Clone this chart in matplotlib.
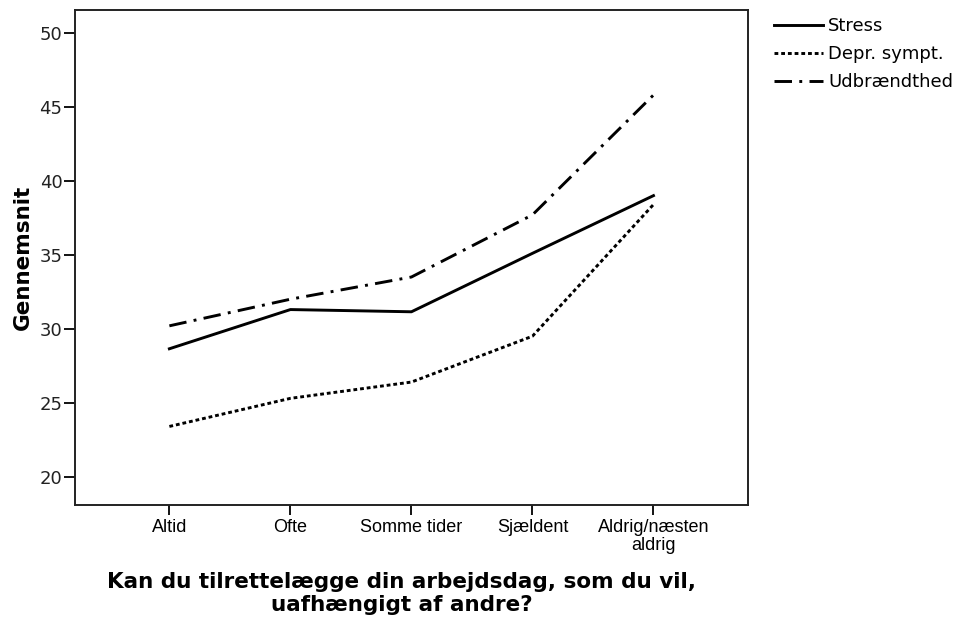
import matplotlib
matplotlib.use("Agg")
import matplotlib.pyplot as plt

# categories on the x axis
categories = ["Altid", "Ofte", "Somme tider", "Sjældent", "Aldrig/næsten\naldrig"]

# mean scores per series
stress = [28.65, 31.3, 31.15, 35.1, 39.0]
depr = [23.4, 25.3, 26.4, 29.5, 38.4]
udbraendt = [30.2, 32.0, 33.5, 37.7, 45.8]

y_ticks = [20, 25, 30, 35, 40, 45, 50]

plt.rcParams['font.family'] = ['DejaVu Sans']

fig = plt.figure(figsize=(9.65, 6.21), dpi=100)
ax = fig.add_axes([0.0777, 0.187, 0.775 - 0.0777, 0.797])

x = list(range(len(categories)))
ax.plot(x, stress, '-', color="black", lw=2.1, label="Stress")
ax.plot(x, depr, color="black", lw=2.1, dashes=(1.3, 1.0), label="Depr. sympt.")
ax.plot(x, udbraendt, color="black", lw=2.1, dashes=(6, 2.5, 1, 2.5), label="Udbrændthed")

ax.set_xlim(-0.78, 4.78)
ax.set_ylim(18.1, 51.55)
ax.set_yticks(y_ticks)
ax.set_xticks(x)
ax.set_xticklabels(categories, family=['Liberation Sans', 'DejaVu Sans'],
                   fontsize=13, linespacing=1.1)
ax.tick_params(axis='y', labelsize=13, length=8, width=1.3, direction='out', pad=1,
               labelcolor='#222222')
ax.tick_params(axis='x', length=7, width=1.3, direction='out', pad=3)
for s in ax.spines.values():
    s.set_linewidth(1.4)
    s.set_color('#222222')

ax.set_ylabel("Gennemsnit", fontsize=15.5, fontweight='bold', labelpad=5)
ax.set_xlabel("Kan du tilrettelægge din arbejdsdag, som du vil,\nuafhængigt af andre?",
              fontsize=15.5, fontweight='bold', linespacing=1.15, labelpad=13)
ax.xaxis.label.set_x(0.485)

ax.legend(loc='upper left', bbox_to_anchor=(1.028, 1.0), frameon=False,
          fontsize=13, handlelength=2.7, handletextpad=0.3, labelspacing=0.55,
          borderaxespad=0)

fig.savefig("out.png", dpi=100)
